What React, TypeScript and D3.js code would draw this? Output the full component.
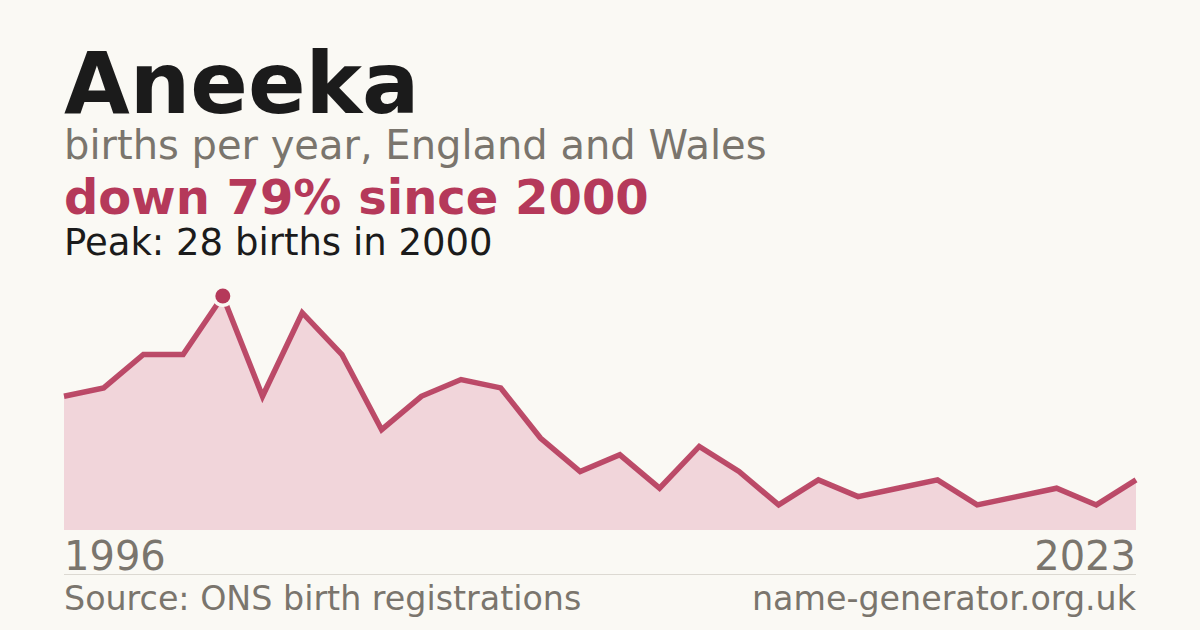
import { useEffect, useRef } from 'react'
import * as d3 from 'd3'

const years = d3.range(1996, 2024)
const births = [16, 17, 21, 21, 28, 16, 26, 21, 12, 16, 18, 17, 11, 7, 9, 5, 10, 7, 3, 6, 4, 5, 6, 3, 4, 5, 3, 6]

const name = 'Aneeka'
const subtitle = 'births per year, England and Wales'
const source = 'Source: ONS birth registrations'
const site = 'name-generator.org.uk'

export default function App() {
  const svgRef = useRef<SVGSVGElement>(null)

  useEffect(() => {
    if (!svgRef.current) return
    const W = 1200
    const H = 630
    const left = 64
    const right = 1136
    const top = 296
    const bottom = 530
    const accent = '#b5395a'
    const grey = '#7a756d'
    const bg = '#faf9f4'
    const font = '"DejaVu Sans", sans-serif'

    const svg = d3.select(svgRef.current)
    svg.selectAll('*').remove()
    svg.attr('width', W).attr('height', H)

    svg.append('rect').attr('width', W).attr('height', H).attr('fill', bg)

    const data = years.map((y, i) => ({ year: y, value: births[i] }))
    const maxVal = d3.max(births) || 1
    const peak = data.find(d => d.value === maxVal)!
    const last = births[births.length - 1]
    const pct = Math.round((1 - last / peak.value) * 100)

    const x = d3.scaleLinear().domain([years[0], years[years.length - 1]]).range([left, right])
    const y = d3.scaleLinear().domain([0, maxVal]).range([bottom, top])

    // Headings
    svg.append('text')
      .attr('x', left).attr('y', 113)
      .attr('font-family', font).attr('font-weight', 'bold').attr('font-size', 85)
      .attr('fill', '#1b1b1b')
      .text(name)

    svg.append('text')
      .attr('x', left).attr('y', 159)
      .attr('font-family', font).attr('font-size', 40)
      .attr('fill', grey)
      .text(subtitle)

    svg.append('text')
      .attr('x', left).attr('y', 214)
      .attr('font-family', font).attr('font-weight', 'bold').attr('font-size', 48)
      .attr('fill', accent)
      .text(`down ${pct}% since ${peak.year}`)

    svg.append('text')
      .attr('x', left).attr('y', 255)
      .attr('font-family', font).attr('font-size', 37)
      .attr('fill', '#1b1b1b')
      .text(`Peak: ${peak.value} births in ${peak.year}`)

    // Area + line
    const area = d3.area<{ year: number; value: number }>()
      .x(d => x(d.year))
      .y0(bottom)
      .y1(d => y(d.value))

    const line = d3.line<{ year: number; value: number }>()
      .x(d => x(d.year))
      .y(d => y(d.value))

    svg.append('path')
      .datum(data)
      .attr('d', area)
      .attr('fill', '#f1d5da')

    svg.append('path')
      .datum(data)
      .attr('d', line)
      .attr('fill', 'none')
      .attr('stroke', accent)
      .attr('stroke-width', 5.5)
      .attr('stroke-opacity', 0.9)
      .attr('stroke-linejoin', 'miter')

    svg.append('circle')
      .attr('cx', x(peak.year))
      .attr('cy', y(peak.value))
      .attr('r', 11)
      .attr('fill', bg)

    svg.append('circle')
      .attr('cx', x(peak.year))
      .attr('cy', y(peak.value))
      .attr('r', 7.5)
      .attr('fill', accent)

    // Year labels
    svg.append('text')
      .attr('x', left).attr('y', 570)
      .attr('font-family', font).attr('font-size', 40)
      .attr('fill', grey)
      .text(years[0])

    svg.append('text')
      .attr('x', right).attr('y', 570)
      .attr('text-anchor', 'end')
      .attr('font-family', font).attr('font-size', 40)
      .attr('fill', grey)
      .text(years[years.length - 1])

    svg.append('line')
      .attr('x1', left).attr('x2', right)
      .attr('y1', 574.5).attr('y2', 574.5)
      .attr('stroke', '#dcd9d2')
      .attr('stroke-width', 1)

    // Footer
    svg.append('text')
      .attr('x', left).attr('y', 610)
      .attr('font-family', font).attr('font-size', 33.3)
      .attr('fill', grey)
      .text(source)

    svg.append('text')
      .attr('x', right).attr('y', 610)
      .attr('text-anchor', 'end')
      .attr('font-family', font).attr('font-size', 33.3)
      .attr('fill', grey)
      .text(site)
  }, [])

  return (
    <div style={{ position: 'absolute', left: 0, top: 0 }}>
      <svg ref={svgRef} style={{ display: 'block' }}></svg>
    </div>
  )
}
